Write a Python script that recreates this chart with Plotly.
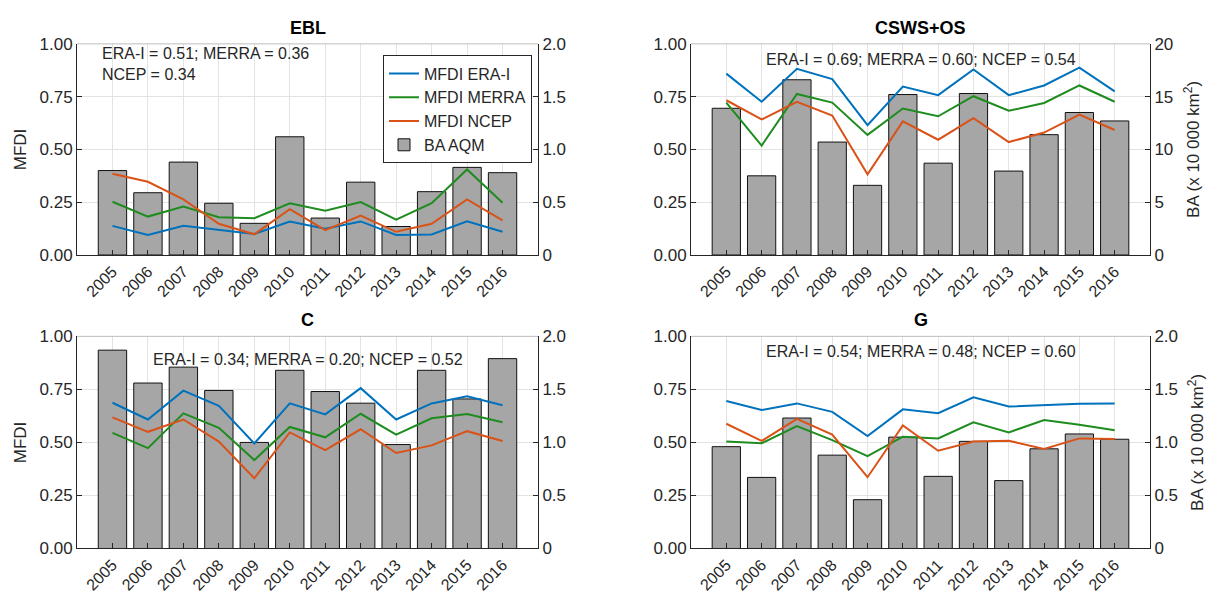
import plotly.graph_objects as go

years = [2005, 2006, 2007, 2008, 2009, 2010, 2011, 2012, 2013, 2014, 2015, 2016]
year_labels = [str(y) for y in years]

panel_titles = ["EBL", "CSWS+OS", "C", "G"]
panel_stats = [
    "ERA-I = 0.51; MERRA = 0.36<br>NCEP = 0.34",
    "ERA-I = 0.69; MERRA = 0.60; NCEP = 0.54",
    "ERA-I = 0.34; MERRA = 0.20; NCEP = 0.52",
    "ERA-I = 0.54; MERRA = 0.48; NCEP = 0.60",
]

# Burned area (BA AQM, x 10 000 km2)
ba_ebl = [0.80, 0.59, 0.88, 0.49, 0.30, 1.12, 0.35, 0.69, 0.27, 0.60, 0.83, 0.78]
ba_csws = [13.9, 7.5, 16.6, 10.7, 6.6, 15.2, 8.7, 15.3, 7.95, 11.4, 13.5, 12.7]
ba_c = [1.87, 1.56, 1.71, 1.49, 1.00, 1.68, 1.48, 1.37, 0.98, 1.68, 1.41, 1.79]
ba_g = [0.96, 0.67, 1.23, 0.88, 0.46, 1.05, 0.68, 1.01, 0.64, 0.94, 1.08, 1.03]

# MFDI series
era_ebl = [0.138, 0.095, 0.138, 0.118, 0.100, 0.159, 0.125, 0.159, 0.095, 0.097, 0.160, 0.110]
merra_ebl = [0.252, 0.182, 0.229, 0.179, 0.174, 0.245, 0.210, 0.251, 0.168, 0.245, 0.405, 0.248]
ncep_ebl = [0.385, 0.347, 0.263, 0.148, 0.098, 0.217, 0.118, 0.187, 0.110, 0.148, 0.263, 0.164]

era_csws = [0.859, 0.726, 0.882, 0.833, 0.615, 0.798, 0.757, 0.879, 0.757, 0.803, 0.887, 0.775]
merra_csws = [0.722, 0.518, 0.763, 0.722, 0.569, 0.694, 0.657, 0.752, 0.683, 0.720, 0.803, 0.726]
ncep_csws = [0.733, 0.642, 0.725, 0.661, 0.382, 0.633, 0.546, 0.648, 0.535, 0.580, 0.665, 0.592]

era_c = [0.687, 0.608, 0.744, 0.672, 0.495, 0.684, 0.632, 0.756, 0.608, 0.684, 0.718, 0.675]
merra_c = [0.545, 0.473, 0.637, 0.569, 0.417, 0.573, 0.524, 0.635, 0.537, 0.614, 0.634, 0.595]
ncep_c = [0.618, 0.550, 0.608, 0.504, 0.331, 0.547, 0.464, 0.562, 0.450, 0.486, 0.553, 0.507]

era_g = [0.695, 0.653, 0.684, 0.644, 0.530, 0.656, 0.638, 0.713, 0.669, 0.676, 0.682, 0.684]
merra_g = [0.504, 0.496, 0.577, 0.511, 0.435, 0.527, 0.519, 0.595, 0.547, 0.606, 0.583, 0.557]
ncep_g = [0.588, 0.507, 0.611, 0.537, 0.336, 0.580, 0.461, 0.504, 0.508, 0.469, 0.519, 0.516]

mfdi_ticks = [0, 0.25, 0.5, 0.75, 1.0]
mfdi_ticktext = ["0.00", "0.25", "0.50", "0.75", "1.00"]
ba_ticks_small = [0, 0.5, 1.0, 1.5, 2.0]
ba_ticktext_small = ["0", "0.5", "1.0", "1.5", "2.0"]
ba_ticks_big = [0, 5, 10, 15, 20]
ba_ticktext_big = ["0", "5", "10", "15", "20"]

panels = [
    dict(ba=ba_ebl, era=era_ebl, merra=merra_ebl, ncep=ncep_ebl, bt=ba_ticks_small, btt=ba_ticktext_small),
    dict(ba=ba_csws, era=era_csws, merra=merra_csws, ncep=ncep_csws, bt=ba_ticks_big, btt=ba_ticktext_big),
    dict(ba=ba_c, era=era_c, merra=merra_c, ncep=ncep_c, bt=ba_ticks_small, btt=ba_ticktext_small),
    dict(ba=ba_g, era=era_g, merra=merra_g, ncep=ncep_g, bt=ba_ticks_small, btt=ba_ticktext_small),
]

W, H = 1220, 604
# pixel boxes (left, right, top, bottom)
boxes = [(77, 538, 36, 254), (691, 1150, 36, 254), (77, 538, 338, 557), (691, 1150, 338, 557)]
stat_y = [0.963, 0.927, 0.892, 0.93]

BLUE = "#0072BD"
GREEN = "#1E8C1E"
ORANGE = "#D95319"
BARC = "#A6A6A6"
AXC = "#262626"
GRIDC = "#E3E3E3"
FONT = "Liberation Sans, Arial, sans-serif"

fig = go.Figure()
layout = dict(
    width=W, height=H, margin=dict(l=0, r=0, t=0, b=0),
    paper_bgcolor="white", plot_bgcolor="white",
    font=dict(family=FONT, size=16, color=AXC),
    showlegend=True,
    legend=dict(x=383 / W, y=1 - 48 / H, xanchor="left", yanchor="top",
                bordercolor=AXC, borderwidth=1, bgcolor="white",
                font=dict(size=16, color=AXC), tracegroupgap=0, itemwidth=30),
)
annotations = []
shapes = []

for i, p in enumerate(panels):
    n = i + 1
    xa = "x" if n == 1 else f"x{n}"
    yb_id = 2 * n - 1
    yl_id = 2 * n
    yb = "y" if yb_id == 1 else f"y{yb_id}"
    yl = f"y{yl_id}"
    l, r, t, b = boxes[i]
    xdom = [l / W, r / W]
    ydom = [1 - b / H, 1 - t / H]
    show = (i == 0)

    fig.add_trace(go.Bar(x=years, y=p["ba"], xaxis=xa, yaxis=yb, width=0.8,
                         marker=dict(color=BARC, line=dict(color="#111111", width=1)),
                         name="BA AQM", showlegend=show, legendrank=4))
    for key, col, nm, rk in [("era", BLUE, "MFDI ERA-I", 1), ("merra", GREEN, "MFDI MERRA", 2),
                             ("ncep", ORANGE, "MFDI NCEP", 3)]:
        fig.add_trace(go.Scatter(x=years, y=p[key], xaxis=xa, yaxis=yl, mode="lines",
                                 line=dict(color=col, width=2), name=nm,
                                 showlegend=show, legendrank=rk))

    xkey = "xaxis" if n == 1 else f"xaxis{n}"
    ybkey = "yaxis" if yb_id == 1 else f"yaxis{yb_id}"
    ylkey = f"yaxis{yl_id}"
    layout[xkey] = dict(domain=xdom, anchor=yb, range=[2004, 2017], tickvals=years,
                        ticktext=year_labels, tickangle=-45, ticks="inside", ticklen=5,
                        tickcolor=AXC, showline=True, linecolor=AXC, linewidth=1,
                        showgrid=True, gridcolor=GRIDC, gridwidth=1, zeroline=False,
                        tickfont=dict(size=16, color=AXC), fixedrange=True)
    ybax = dict(domain=ydom, anchor=xa, side="right", range=[0, p["bt"][-1]],
                tickvals=p["bt"], ticktext=p["btt"], ticks="inside", ticklen=5,
                tickcolor=AXC, showline=True, linecolor=AXC, linewidth=1,
                showgrid=True, gridcolor=GRIDC, zeroline=False,
                tickfont=dict(size=17, color=AXC))
    if n in (2, 4):
        ybax["title"] = dict(text="BA (x 10 000 km<sup>2</sup>)", font=dict(size=17, color=AXC), standoff=14)
    layout[ybkey] = ybax
    ylax = dict(overlaying=yb, anchor=xa, side="left", range=[0, 1],
                tickvals=mfdi_ticks, ticktext=mfdi_ticktext, ticks="inside", ticklen=5,
                tickcolor=AXC, showline=True, linecolor=AXC, linewidth=1,
                showgrid=False, zeroline=False,
                tickfont=dict(size=17, color=AXC))
    if n in (1, 3):
        ylax["title"] = dict(text="MFDI", font=dict(size=17, color=AXC), standoff=8)
    layout[ylkey] = ylax

    # top border of the box (light)
    shapes.append(dict(type="line", xref=f"{xa} domain", yref=f"{yb} domain",
                       x0=0, x1=1, y0=1, y1=1, line=dict(color="#BDBDBD", width=1)))
    # title
    annotations.append(dict(text=f"<b>{panel_titles[i]}</b>", xref=f"{xa} domain", yref=f"{yb} domain",
                            x=0.5, y=1, yshift=4, xanchor="center", yanchor="bottom",
                            showarrow=False, font=dict(size=18, color="black")))
    # statistics
    if i == 0:
        annotations.append(dict(text=panel_stats[i], xref=f"{xa} domain", yref=f"{yb} domain",
                                x=0.05, y=stat_y[i] + 0.04, xanchor="left", yanchor="top", align="left",
                                showarrow=False, font=dict(size=16, color=AXC)))
    else:
        annotations.append(dict(text=panel_stats[i], xref=f"{xa} domain", yref=f"{yb} domain",
                                x=0.5, y=stat_y[i], xanchor="center", yanchor="middle",
                                showarrow=False, font=dict(size=16, color=AXC)))

layout["annotations"] = annotations
layout["shapes"] = shapes
layout["bargap"] = 0.2
fig.update_layout(**layout)
fig.write_html("out.html")
